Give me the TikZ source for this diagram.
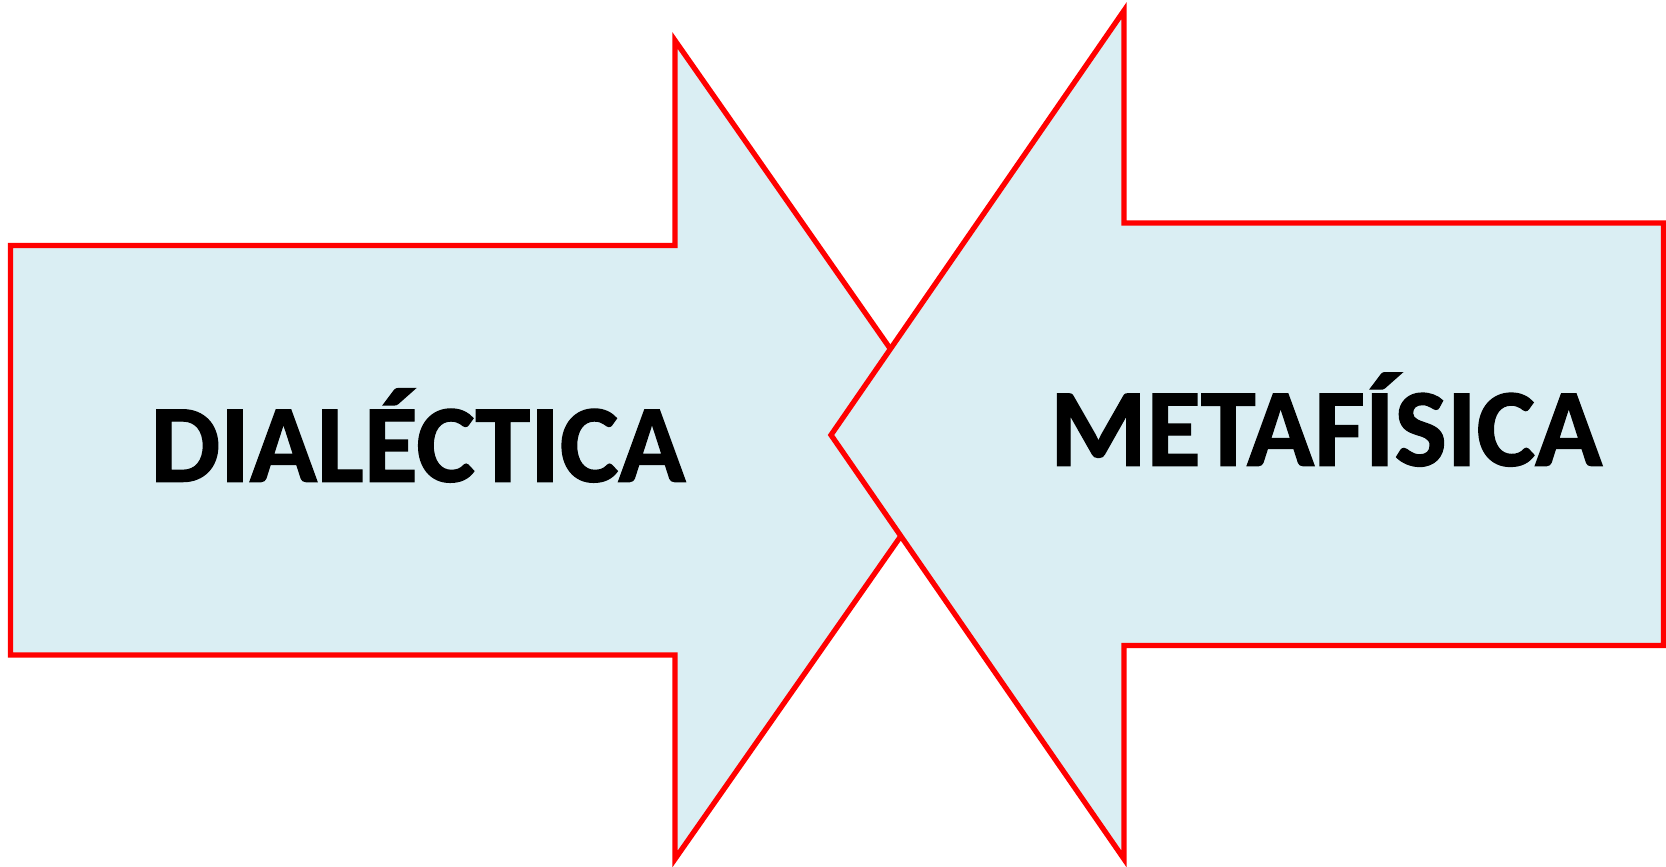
\documentclass[tikz,border=0pt]{standalone}
\usepackage{fontspec}
\setmainfont{Carlito}[BoldFeatures={FakeBold=1.2}]
\definecolor{lightaqua}{HTML}{DAEEF3}
\begin{document}
\begin{tikzpicture}[x=0.01cm, y=-0.01cm,
				    arrowshape/.style={draw=red, line width=1.5pt, fill=lightaqua},
				    word/.style={font=\fontsize{31.5}{36}\selectfont\bfseries,
				    			  text=black, anchor=base, inner sep=0pt}]
	\useasboundingbox (0, 0) rectangle (1666, 867);
	
	\draw[arrowshape] (10.6, 245.6) -- (675, 245.6) -- (675, 40.5) -- (961, 450)
		-- (675, 859) -- (675, 655) -- (10.6, 655) -- cycle;
	\draw[arrowshape] (1663.5, 223) -- (1124, 223) -- (1124, 10.6) -- (831, 435)
		-- (1124, 859) -- (1124, 645.5) -- (1663.5, 645.5) -- cycle;
	
	\node[word] (dial) at (418, 481.6) {DIALÉCTICA};
	\node[word] (meta) at (1326, 465.7) {METAFÍSICA};

\end{tikzpicture}
\end{document}
